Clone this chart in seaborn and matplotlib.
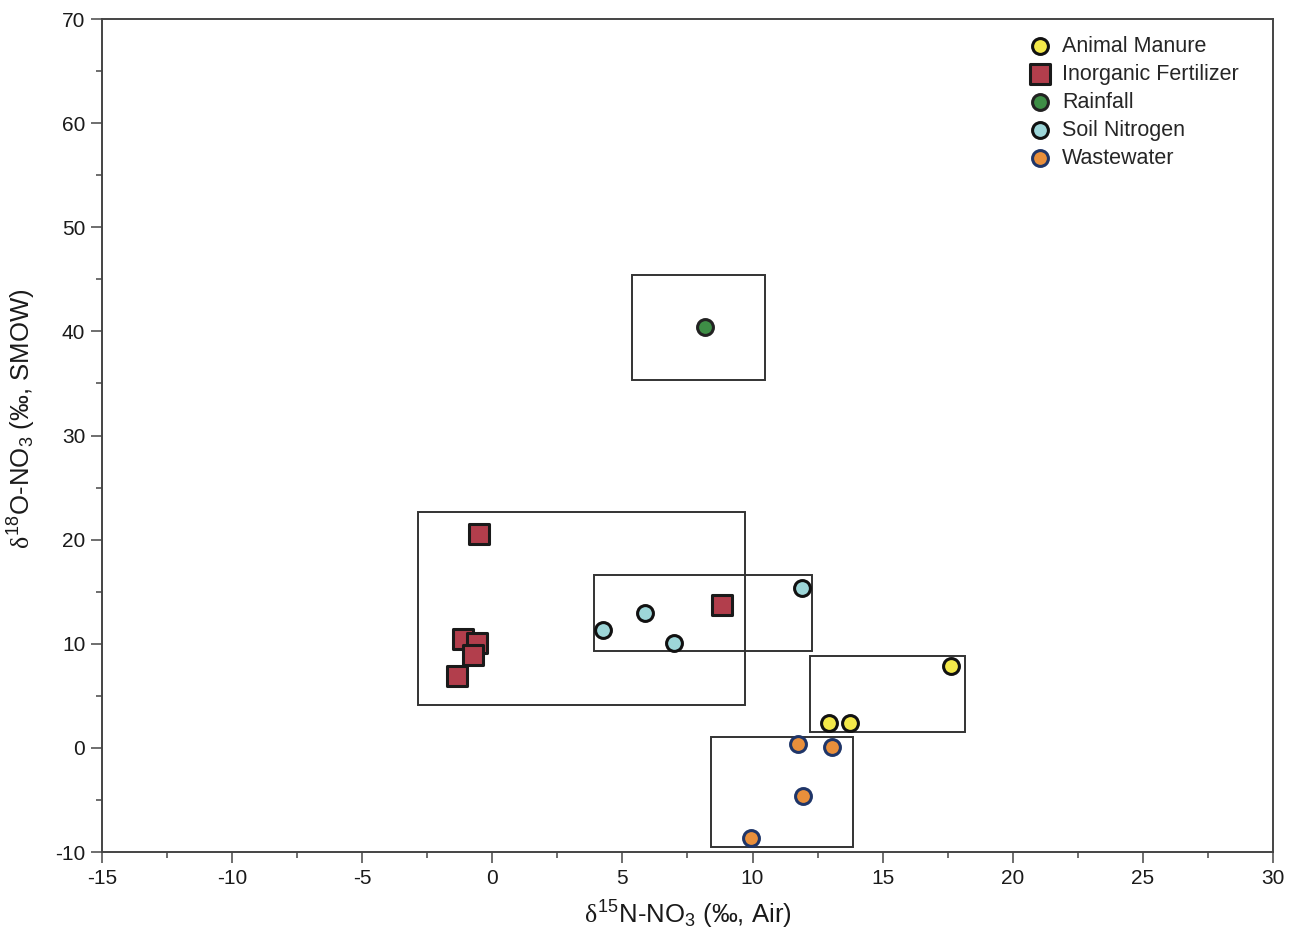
import matplotlib
matplotlib.use("Agg")
import matplotlib.pyplot as plt
from matplotlib.patches import Rectangle
from matplotlib.ticker import MultipleLocator
import seaborn as sns
import pandas as pd

# ---- data ----
manure_x = [12.94, 13.75, 17.63]
manure_y = [2.39, 2.39, 7.87]
fert_x = [-0.51, -1.13, -0.59, -0.74, -1.36, 8.83]
fert_y = [20.55, 10.46, 10.08, 8.92, 6.91, 13.73]
rain_x = [8.17]
rain_y = [40.43]
soil_x = [4.25, 5.87, 6.98, 11.90]
soil_y = [11.33, 12.96, 10.08, 15.36]
waste_x = [11.75, 13.06, 11.94, 9.94]
waste_y = [0.37, 0.09, -4.62, -8.66]

sources = ["Animal Manure", "Inorganic Fertilizer", "Rainfall", "Soil Nitrogen", "Wastewater"]
# source range boxes: (xmin, xmax, ymin, ymax)
box_xmin = [12.21, -2.86, 5.37, 3.92, 8.40]
box_xmax = [18.17, 9.71, 10.48, 12.28, 13.85]
box_ymin = [1.56, 4.12, 35.34, 9.31, -9.49]
box_ymax = [8.83, 22.66, 45.43, 16.61, 1.02]

face = {"Animal Manure": "#f3e84a", "Inorganic Fertilizer": "#b23e4c",
        "Rainfall": "#3e8e46", "Soil Nitrogen": "#9dd6d8", "Wastewater": "#e98f3b"}
edge = {"Animal Manure": "#111111", "Inorganic Fertilizer": "#1a1a1a",
        "Rainfall": "#222222", "Soil Nitrogen": "#111111", "Wastewater": "#1f3568"}
marker = {"Animal Manure": "o", "Inorganic Fertilizer": "s", "Rainfall": "o",
          "Soil Nitrogen": "o", "Wastewater": "o"}
size = {"Animal Manure": 130, "Inorganic Fertilizer": 190, "Rainfall": 130,
        "Soil Nitrogen": 130, "Wastewater": 130}

xs = [manure_x, fert_x, rain_x, soil_x, waste_x]
ys = [manure_y, fert_y, rain_y, soil_y, waste_y]
rows = []
for s, xx, yy in zip(sources, xs, ys):
    for a, b in zip(xx, yy):
        rows.append({"source": s, "x": a, "y": b})
df = pd.DataFrame(rows)

sns.set_theme(style="white")
plt.rcParams["font.family"] = ["Liberation Sans", "DejaVu Sans"]
plt.rcParams["axes.unicode_minus"] = False
plt.rcParams["mathtext.fontset"] = "custom"
plt.rcParams["mathtext.rm"] = "Liberation Sans"
plt.rcParams["mathtext.it"] = "Liberation Serif"
plt.rcParams["mathtext.default"] = "regular"

fig = plt.figure(figsize=(12.99, 9.33), dpi=100)
ax = fig.add_axes([0.0785, 0.0868, 0.9015, 0.8928])

for i in range(len(sources)):
    ax.add_patch(Rectangle((box_xmin[i], box_ymin[i]), box_xmax[i] - box_xmin[i],
                           box_ymax[i] - box_ymin[i], fill=False,
                           edgecolor="#333333", linewidth=1.4, zorder=1))

for s in sources:
    sub = df[df["source"] == s]
    sns.scatterplot(data=sub, x="x", y="y", ax=ax, marker=marker[s], s=size[s],
                    color=face[s], edgecolor=edge[s], linewidth=2.2, label=s, zorder=3)

ax.set_xlim(-15, 30)
ax.set_ylim(-10, 70)
ax.xaxis.set_major_locator(MultipleLocator(5))
ax.xaxis.set_minor_locator(MultipleLocator(2.5))
ax.yaxis.set_major_locator(MultipleLocator(10))
ax.yaxis.set_minor_locator(MultipleLocator(5))
ax.tick_params(axis="both", which="major", direction="out", length=8, width=1.2,
               color="#555555", labelsize=15, labelcolor="#1a1a1a", pad=4,
               bottom=True, left=True)
ax.tick_params(axis="both", which="minor", direction="out", length=4, width=1.2,
               color="#555555", bottom=True, left=True)
for sp in ax.spines.values():
    sp.set_color("#444444")
    sp.set_linewidth(1.4)

ax.set_xlabel(r"$\mathit{\delta}^{15}$N-NO$_3$ (‰, Air)", fontsize=18.5, labelpad=8,
              color="#1a1a1a")
ax.set_ylabel(r"$\mathit{\delta}^{18}$O-NO$_3$ (‰, SMOW)", fontsize=18.5, labelpad=8,
              color="#1a1a1a")
ax.yaxis.set_label_coords(-0.055, 0.52)

ax.legend(loc="upper left", bbox_to_anchor=(0.782, 0.99), frameon=False,
          fontsize=15.5, labelspacing=0.32, handletextpad=0.35, handlelength=1.3,
          borderaxespad=0)

fig.savefig("out.png", dpi=100)
